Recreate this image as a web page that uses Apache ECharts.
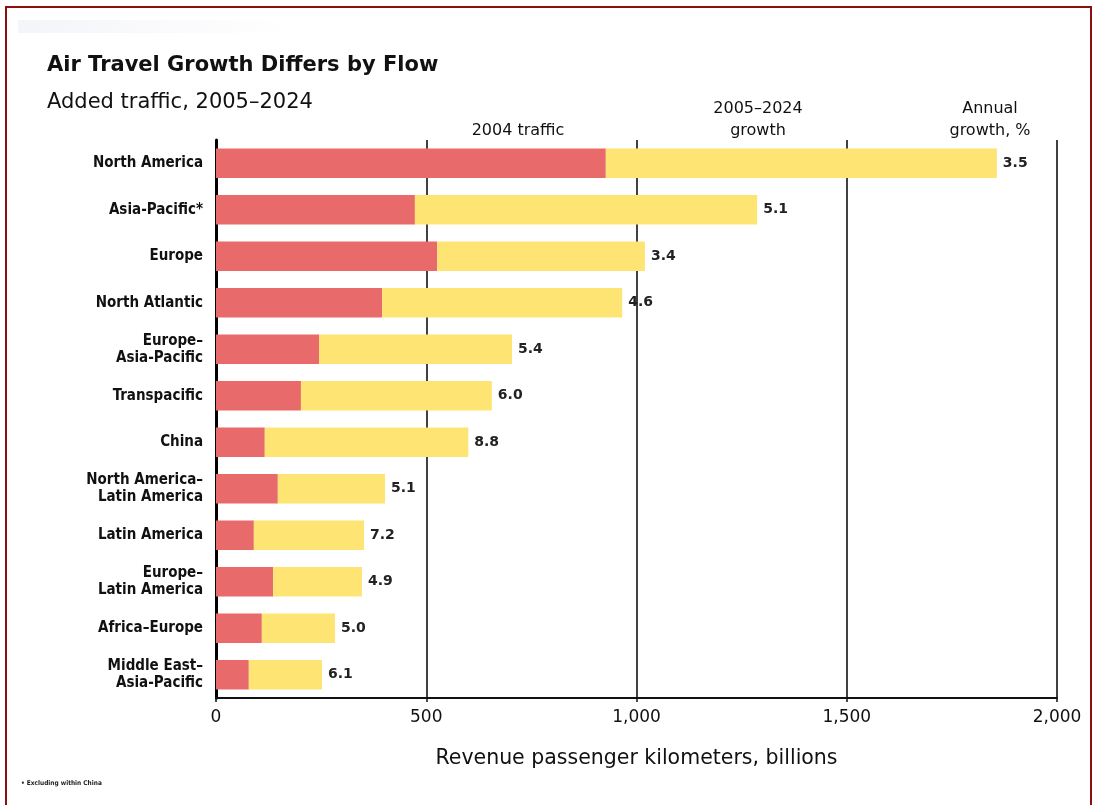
<!DOCTYPE html>
<html>
<head>
<meta charset="utf-8">
<script src="https://cdn.jsdelivr.net/npm/echarts@6/dist/echarts.min.js"></script>
<style>
html,body{margin:0;padding:0;background:#fff;}
#chart{width:1094px;height:805px;}
</style>
</head>
<body>
<div id="chart"></div>
<script>
const categories = [
  'North America', 'Asia-Pacific*', 'Europe', 'North Atlantic',
  'Europe–\nAsia-Pacific', 'Transpacific', 'China',
  'North America–\nLatin America', 'Latin America',
  'Europe–\nLatin America', 'Africa–Europe', 'Middle East–\nAsia-Pacific'
];
const traffic2004 = [927, 473, 526, 395, 245, 202, 116, 147, 90, 136, 109, 78];
const growth2005_2024 = [930, 814, 494, 571, 459, 454, 484, 255, 262, 211, 174, 174];
const annualGrowth = ['3.5', '5.1', '3.4', '4.6', '5.4', '6.0', '8.8', '5.1', '7.2', '4.9', '5.0', '6.1'];

const chart = echarts.init(document.getElementById('chart'), null, {renderer: 'canvas'});
const fontMain = '"DejaVu Sans", "Liberation Sans", Arial, sans-serif';
const fontCond = '"DejaVu Sans Condensed", "Liberation Sans Narrow", "Liberation Sans", Arial, sans-serif';

chart.setOption({
  backgroundColor: '#ffffff',
  animation: false,
  title: [
    {text: 'Air Travel Growth Differs by Flow', left: 42, top: 50,
     textStyle: {fontFamily: fontMain, fontWeight: 'bold', fontSize: 21, color: '#111'}},
    {text: 'Added traffic, 2005–2024', left: 42, top: 87,
     textStyle: {fontFamily: fontMain, fontWeight: 'normal', fontSize: 21, color: '#111'}}
  ],
  graphic: [
    {type: 'rect', shape: {x: 6, y: 7, width: 1085, height: 820},
     style: {fill: 'none', stroke: '#8B0F0F', lineWidth: 2}, silent: true, z: 100},
    {type: 'rect', shape: {x: 18, y: 20, width: 275, height: 13},
     style: {fill: new echarts.graphic.LinearGradient(0, 0, 1, 0, [
       {offset: 0, color: '#f4f5f9'}, {offset: 1, color: '#ffffff'}])}, silent: true},
    {type: 'text', x: 518, y: 131, style: {text: '2004 traffic', align: 'center', verticalAlign: 'middle',
      font: '16px ' + fontMain, fill: '#111'}},
    {type: 'text', x: 758, y: 120, style: {text: '2005–2024\ngrowth', align: 'center', verticalAlign: 'middle',
      font: '16px ' + fontMain, lineHeight: 22, fill: '#111'}},
    {type: 'text', x: 990, y: 120, style: {text: 'Annual\ngrowth, %', align: 'center', verticalAlign: 'middle',
      font: '16px ' + fontMain, lineHeight: 22, fill: '#111'}},
    {type: 'text', x: 21, y: 780, style: {text: '• Excluding within China',
      font: 'bold 6.5px ' + fontCond, fill: '#222'}}
  ],
  grid: {left: 216, right: 37, top: 140, bottom: 107, containLabel: false},
  xAxis: {
    type: 'value', min: 0, max: 2000, interval: 500,
    name: 'Revenue passenger kilometers, billions',
    nameLocation: 'middle', nameGap: 50,
    nameTextStyle: {fontFamily: fontMain, fontSize: 20.5, color: '#111'},
    axisLine: {show: true, lineStyle: {color: '#111', width: 2}},
    axisTick: {show: true, length: 4, lineStyle: {color: '#111', width: 1.5}},
    axisLabel: {fontFamily: fontMain, fontSize: 17, color: '#111', margin: 11,
      formatter: v => v.toLocaleString('en-US')},
    splitLine: {show: true, lineStyle: {color: '#111', width: 1.6}}
  },
  yAxis: {
    type: 'category', data: categories, inverse: true,
    axisLine: {show: true, lineStyle: {color: '#000', width: 3}},
    axisTick: {show: false},
    axisLabel: {fontFamily: fontCond, fontWeight: 'bold', fontSize: 15, color: '#111',
      margin: 13, lineHeight: 17}
  },
  series: [
    {name: '2004 traffic', type: 'bar', stack: 'total', data: traffic2004,
     barWidth: '63%', itemStyle: {color: '#E86A6A'}},
    {name: '2005–2024 growth', type: 'bar', stack: 'total', data: growth2005_2024,
     barWidth: '63%', itemStyle: {color: '#FEE573'},
     label: {show: true, position: 'right', distance: 6,
       formatter: p => annualGrowth[p.dataIndex],
       fontFamily: fontMain, fontSize: 14, fontWeight: 'bold', color: '#222'}}
  ]
});
</script>
</body>
</html>
